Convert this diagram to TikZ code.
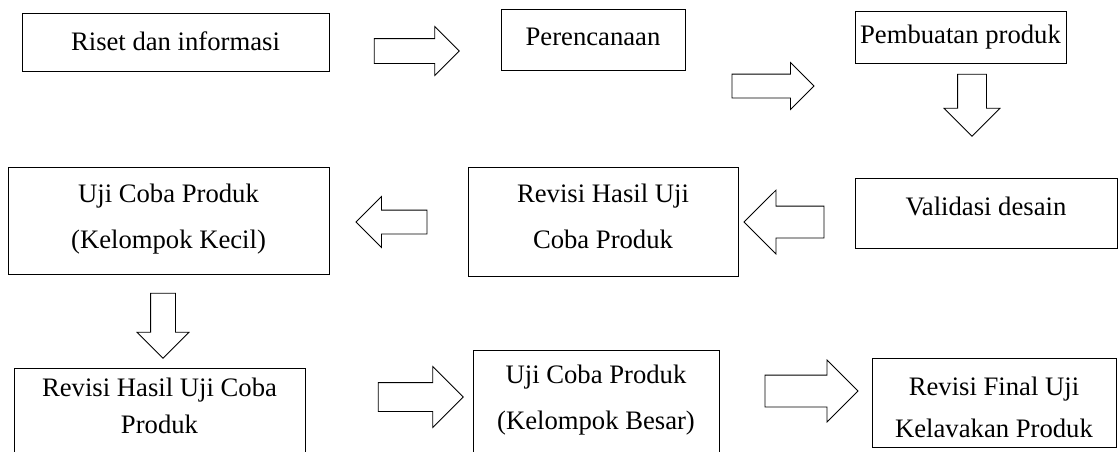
\documentclass[tikz,border=0pt]{standalone}
\usepackage{fontspec}
\setmainfont{Liberation Serif}
\usetikzlibrary{shapes.arrows}

\begin{document}
\begin{tikzpicture}[
    x = 0.75pt, y = -0.75pt, %
    box/.style = {draw, line width = 0.6pt, inner sep = 0pt, align = center,
                  font = \fontsize{20}{34.5}\selectfont},
    blockarrow/.style = {single arrow, draw, line width = 0.6pt, inner sep = 0pt,
                  single arrow head indent = 0pt, text depth = 0pt}
    ]

    \useasboundingbox (0,0) rectangle (1118,451);

    % first row
    \node[box, minimum width=230.25pt, text height=27.75pt, text depth=15.75pt]
         (riset) at (175.5,42)  {Riset dan informasi};
    \node[box, minimum width=138pt, text height=27pt, text depth=18.75pt]
         (rencana) at (593,39.5) {Perencanaan};
    \node[box, minimum width=158.25pt, text height=24pt, text depth=15pt]
         (buat) at (960.5,37)    {Pembuatan produk};

    % second row
    \node[box, minimum width=196.5pt, text height=27.75pt, text depth=24.75pt]
         (validasi) at (986,213) {Validasi desain};
    \node[box, minimum width=202.5pt, text height=60.75pt, text depth=21pt]
         (revisi1) at (603,221.5) {Revisi Hasil Uji\\Coba Produk};
    \node[box, minimum width=240.75pt, text height=60.75pt, text depth=19.5pt]
         (kecil) at (168.5,220.5) {Uji Coba Produk\\(Kelompok Kecil)};

    % third row
    \node[box, minimum width=218.25pt, text height=48.75pt, text depth=27.75pt,
          font=\fontsize{20}{27.75}\selectfont]
         (revisi2) at (159.5,419) {Revisi Hasil Uji Coba\\Produk};
    \node[box, minimum width=184.5pt, text height=59.25pt, text depth=30.75pt]
         (besar) at (596,410)    {Uji Coba Produk\\(Kelompok Besar)};
    \node[box, minimum width=183pt, text height=59.25pt, text depth=7.5pt,
          font=\fontsize{20}{31.5}\selectfont]
         (final) at (994,402.5)  {Revisi Final Uji\\Kelavakan Produk};

    % block arrows
    \node[blockarrow, minimum height=63.75pt, text height=18pt,
          single arrow head extend=9pt] (a1) at (410.5,51) {};
    \node[blockarrow, minimum height=61.5pt, text height=17.25pt,
          single arrow head extend=8.6pt] (a2) at (767,86) {};
    \node[blockarrow, minimum height=46.5pt, text height=21pt,
          single arrow head extend=10.1pt, rotate=-90] (a3) at (972,98) {};
    \node[blockarrow, minimum height=60pt, text height=23.25pt,
          single arrow head extend=12pt, rotate=180] (a4) at (792,222) {};
    \node[blockarrow, minimum height=53.25pt, text height=17.25pt,
          single arrow head extend=10.1pt, rotate=180] (a5) at (397.5,222) {};
    \node[blockarrow, minimum height=48.75pt, text height=18pt,
          single arrow head extend=10.1pt, rotate=-90] (a6) at (163,319.5) {};
    \node[blockarrow, minimum height=63.75pt, text height=21pt,
          single arrow head extend=12pt] (a7) at (413.5,397) {};
    \node[blockarrow, minimum height=69.75pt, text height=23.25pt,
          single arrow head extend=11.25pt] (a8) at (803.5,391) {};

\end{tikzpicture}
\end{document}
